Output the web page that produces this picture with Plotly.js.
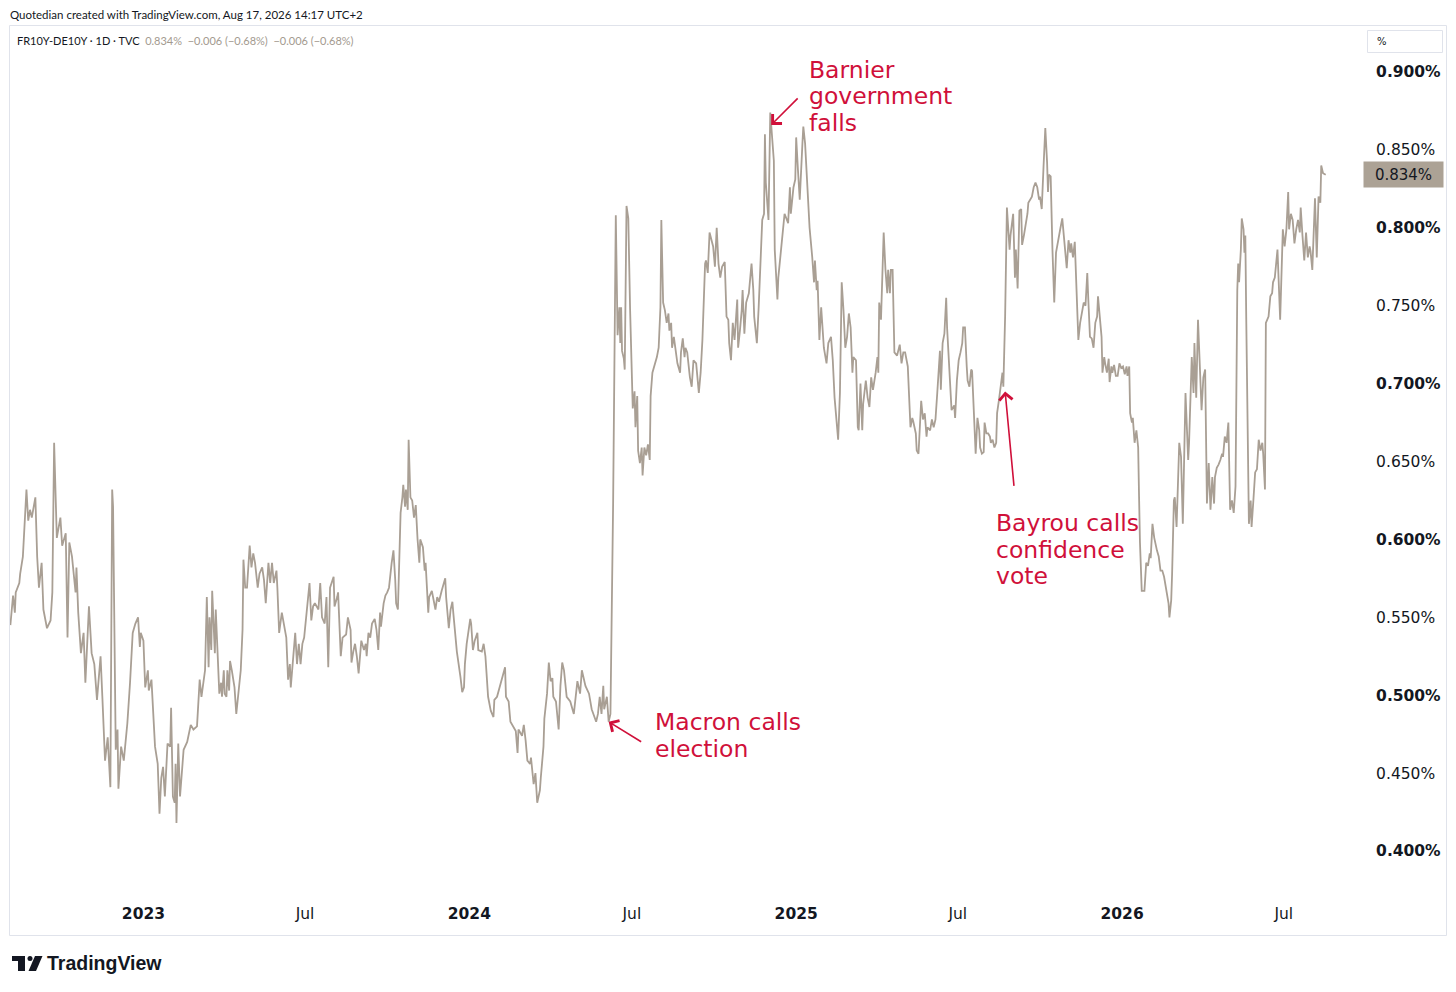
<!DOCTYPE html>
<html><head><meta charset="utf-8">
<script src="https://cdn.plot.ly/plotly-3.0.1.min.js"></script>
<style>html,body{margin:0;padding:0;background:#fff}#chart{width:1456px;height:992px}</style>
</head><body><div id="chart"></div>
<script>
// ---------- DATA (FR10Y-DE10Y spread, %) ----------
const days2022 = ['08-05','08-08','08-10','08-11','08-15','08-16','08-19','08-21','08-23','08-25',
'08-27','08-29','09-02','09-04','09-06','09-09','09-11','09-15','09-19','09-21',
'09-23','09-26','09-30','10-02','10-06','10-08','10-10','10-13','10-17','10-18',
'10-20','10-23','10-26','10-28','10-30','11-01','11-04','11-07','11-10','11-14',
'11-16','11-19','11-22','11-25','11-27','11-28','12-01','12-03','12-04','12-07',
'12-10','12-14','12-17','12-20','12-23','12-26','12-28','12-29'];
const vals2022 = [0.545,0.564,0.553,0.566,0.572,0.578,0.589,0.612,0.632,0.612,
0.619,0.614,0.627,0.589,0.569,0.585,0.555,0.543,0.548,0.566,
0.662,0.601,0.614,0.596,0.604,0.537,0.598,0.589,0.566,0.582,
0.553,0.527,0.540,0.508,0.537,0.557,0.527,0.520,0.497,0.525,
0.499,0.458,0.473,0.441,0.632,0.621,0.465,0.478,0.440,0.467,
0.458,0.482,0.508,0.540,0.546,0.550,0.531,0.540];

const days2023 = ['01-01','01-03','01-06','01-07','01-10','01-14','01-17','01-19','01-21','01-23',
'01-25','01-28','01-31','02-01','02-03','02-05','02-06','02-07','02-09','02-11',
'02-15','02-19','02-23','02-26','03-02','03-05','03-07','03-11','03-13','03-15',
'03-16','03-18','03-19','03-21','03-22','03-23','03-25','03-27','03-29','03-30',
'04-01','04-02','04-04','04-05','04-07','04-08','04-10','04-13','04-15','04-17',
'04-20','04-22','04-23','04-25','04-27','04-30','05-02','05-04','05-06','05-09',
'05-11','05-14','05-16','05-18','05-20','05-21','05-23','05-25','05-27','05-30',
'05-31','06-02','06-05','06-07','06-10','06-12','06-14','06-15','06-17','06-20',
'06-22','06-24','06-26','06-28','06-30','07-03','07-06','07-08','07-10','07-12',
'07-16','07-18','07-20','07-23','07-25','07-27','07-29','08-02','08-03','08-06',
'08-07','08-10','08-12','08-16','08-18','08-21','08-22','08-24','08-26','08-28',
'08-30','09-02','09-05','09-07','09-08','09-10','09-12','09-14','09-17','09-19',
'09-21','09-23','09-24','09-27','09-29','10-01','10-03','10-06','10-08','10-10',
'10-11','10-13','10-16','10-18','10-19','10-21','10-22','10-24','10-25','10-27',
'10-29','10-31','11-02','11-04','11-06','11-07','11-10','11-12','11-13','11-16',
'11-17','11-20','11-22','11-24','11-26','11-28','12-01','12-03','12-05','12-06',
'12-09','12-11','12-13','12-14','12-16','12-18','12-22','12-24','12-26','12-27','12-29'];
const vals2023 = [0.535,0.505,0.516,0.503,0.510,0.467,0.456,0.424,0.447,0.454,
0.435,0.469,0.467,0.492,0.435,0.431,0.456,0.418,0.469,0.435,
0.465,0.470,0.481,0.478,0.480,0.510,0.499,0.516,0.563,0.518,
0.550,0.529,0.567,0.542,0.527,0.555,0.525,0.501,0.508,0.499,
0.516,0.501,0.499,0.516,0.503,0.522,0.516,0.505,0.488,0.499,
0.516,0.542,0.587,0.569,0.569,0.596,0.582,0.591,0.585,0.569,
0.578,0.582,0.574,0.559,0.580,0.585,0.572,0.585,0.572,0.580,
0.569,0.540,0.553,0.546,0.537,0.510,0.520,0.505,0.520,0.540,
0.520,0.533,0.520,0.533,0.537,0.553,0.572,0.548,0.557,0.559,
0.555,0.572,0.550,0.546,0.563,0.518,0.569,0.576,0.557,0.563,
0.566,0.525,0.537,0.539,0.550,0.542,0.521,0.528,0.533,0.525,
0.514,0.535,0.529,0.533,0.525,0.540,0.537,0.546,0.549,0.542,
0.529,0.553,0.544,0.559,0.564,0.566,0.569,0.585,0.593,0.574,
0.559,0.555,0.617,0.627,0.635,0.621,0.632,0.619,0.664,0.627,
0.625,0.614,0.622,0.600,0.585,0.600,0.595,0.580,0.585,0.553,
0.563,0.567,0.561,0.555,0.563,0.560,0.567,0.572,0.575,0.563,
0.543,0.555,0.560,0.553,0.542,0.528,0.512,0.502,0.505,0.520,0.533];

const days2024 = ['01-02','01-03','01-05','01-07','01-10','01-11','01-15','01-17','01-19','01-22',
'01-25','01-28','01-29','02-01','02-03','02-07','02-10','02-11','02-14','02-16',
'02-18','02-22','02-24','02-25','02-29','03-02','03-04','03-06','03-09','03-10',
'03-13','03-15','03-17','03-20','03-21','03-24','03-25','03-28','03-30','04-01',
'04-03','04-04','04-07','04-10','04-12','04-14','04-16','04-19','04-23','04-27',
'05-01','05-04','05-06','05-08','05-10','05-14','05-16','05-17','05-22','05-24',
'05-26','05-28','05-30','05-31','06-03','06-05','06-07','06-10','06-13','06-15',
'06-17','06-18','06-19','06-20','06-22','06-23','06-25','06-27','06-29','07-01',
'07-02','07-04','07-05','07-07','07-08','07-10','07-12','07-13','07-15','07-17',
'07-19','07-21','07-22','07-24','07-27','07-29','07-31','08-02','08-03','08-05',
'08-07','08-09','08-11','08-12','08-14','08-15','08-17','08-21','08-24','08-25',
'08-27','08-29','08-30','09-01','09-04','09-06','09-08','09-11','09-14','09-16',
'09-18','09-21','09-22','09-24','09-26','09-30','10-02','10-04','10-06','10-08',
'10-10','10-13','10-15','10-17','10-18','10-20','10-22','10-24','10-27','10-28',
'10-30','11-01','11-02','11-04','11-06','11-09','11-12','11-14','11-15','11-18',
'11-20','11-22','11-24','11-26','11-27','11-28','11-30','12-01','12-03','12-05',
'12-07','12-08','12-10','12-11','12-12','12-15','12-17','12-19','12-23','12-25',
'12-26','12-29','12-31'];
const vals2024 = [0.549,0.546,0.529,0.535,0.540,0.529,0.528,0.533,0.525,0.499,
0.490,0.486,0.497,0.499,0.503,0.512,0.518,0.499,0.496,0.483,
0.481,0.477,0.463,0.478,0.474,0.481,0.471,0.458,0.456,0.460,
0.443,0.450,0.431,0.439,0.447,0.467,0.485,0.501,0.521,0.509,
0.511,0.499,0.496,0.478,0.506,0.521,0.516,0.499,0.496,0.488,
0.509,0.501,0.516,0.511,0.506,0.501,0.494,0.491,0.483,0.488,
0.499,0.488,0.506,0.491,0.499,0.483,0.488,0.623,0.808,0.731,
0.749,0.726,0.749,0.721,0.716,0.709,0.814,0.806,0.748,0.702,
0.684,0.695,0.672,0.692,0.657,0.649,0.659,0.641,0.659,0.654,
0.661,0.651,0.692,0.707,0.713,0.717,0.723,0.749,0.805,0.752,
0.747,0.739,0.745,0.734,0.739,0.723,0.730,0.713,0.707,0.720,
0.729,0.717,0.723,0.720,0.704,0.698,0.715,0.713,0.694,0.707,
0.728,0.777,0.779,0.771,0.797,0.788,0.775,0.800,0.777,0.768,
0.775,0.778,0.743,0.741,0.726,0.715,0.739,0.728,0.754,0.723,
0.734,0.747,0.760,0.732,0.752,0.758,0.777,0.760,0.743,0.726,
0.749,0.777,0.805,0.809,0.860,0.829,0.813,0.805,0.874,0.856,
0.843,0.786,0.768,0.754,0.768,0.786,0.799,0.809,0.803,0.826,
0.809,0.826,0.831];

const days2025 = ['01-01','01-03','01-05','01-08','01-09','01-11','01-14','01-16','01-19','01-21',
'01-22','01-24','01-25','01-27','01-29','02-01','02-04','02-06','02-09','02-11',
'02-13','02-17','02-19','02-21','02-23','02-25','02-27','03-01','03-03','03-05',
'03-06','03-09','03-11','03-12','03-14','03-16','03-17','03-20','03-22','03-24',
'03-26','03-28','03-31','04-02','04-03','04-04','04-06','04-09','04-11','04-13',
'04-14','04-16','04-17','04-19','04-21','04-24','04-27','04-29','05-01','05-03',
'05-06','05-07','05-09','05-11','05-12','05-15','05-16','05-18','05-21','05-23',
'05-25','05-27','05-28','05-31','06-02','06-04','06-06','06-08','06-11','06-12',
'06-14','06-16','06-18','06-19','06-21','06-22','06-24','06-27','06-28','06-30',
'07-02','07-04','07-06','07-07','07-09','07-11','07-12','07-14','07-16','07-17',
'07-19','07-21','07-23','07-25','07-26','07-28','07-30','07-31','08-02','08-04',
'08-06','08-07','08-09','08-11','08-13','08-14','08-16','08-18','08-20','08-21',
'08-23','08-25','08-28','08-29','09-01','09-03','09-04','09-06','09-08','09-10',
'09-11','09-13','09-15','09-17','09-18','09-22','09-24','09-26','09-28','09-30',
'10-01','10-03','10-05','10-07','10-09','10-10','10-11','10-13','10-15','10-17',
'10-19','10-22','10-24','10-26','10-27','10-29','10-31','11-02','11-04','11-05',
'11-07','11-09','11-11','11-13','11-15','11-17','11-19','11-21','11-23','11-24',
'11-26','11-28','11-30','12-02','12-04','12-05','12-07','12-09','12-10','12-12',
'12-13','12-15','12-17','12-18','12-20','12-21','12-23','12-25','12-27','12-29','12-31'];
const vals2025 = [0.858,0.837,0.818,0.854,0.865,0.854,0.820,0.800,0.781,0.765,
0.779,0.760,0.766,0.728,0.749,0.723,0.713,0.726,0.730,0.715,
0.691,0.664,0.694,0.765,0.747,0.723,0.730,0.745,0.736,0.707,
0.717,0.715,0.672,0.670,0.700,0.670,0.687,0.702,0.691,0.685,
0.704,0.696,0.707,0.717,0.707,0.752,0.741,0.797,0.773,0.758,
0.773,0.758,0.773,0.773,0.720,0.718,0.725,0.713,0.720,0.720,
0.711,0.695,0.672,0.678,0.676,0.668,0.657,0.655,0.689,0.677,
0.681,0.666,0.672,0.670,0.677,0.672,0.677,0.694,0.721,0.696,
0.726,0.732,0.755,0.736,0.713,0.702,0.683,0.686,0.678,0.702,
0.715,0.720,0.726,0.736,0.736,0.711,0.702,0.698,0.709,0.708,
0.685,0.655,0.678,0.670,0.659,0.655,0.656,0.675,0.668,0.668,
0.666,0.662,0.664,0.659,0.662,0.681,0.689,0.698,0.707,0.698,
0.743,0.813,0.786,0.795,0.809,0.768,0.786,0.761,0.811,0.812,
0.789,0.795,0.801,0.809,0.816,0.820,0.826,0.829,0.826,0.818,
0.820,0.812,0.839,0.864,0.842,0.823,0.834,0.833,0.786,0.752,
0.784,0.795,0.800,0.806,0.799,0.789,0.774,0.792,0.784,0.790,
0.781,0.791,0.765,0.728,0.739,0.747,0.752,0.750,0.771,0.756,
0.730,0.729,0.723,0.739,0.743,0.756,0.743,0.730,0.707,0.717,
0.713,0.707,0.716,0.701,0.711,0.707,0.712,0.705,0.705,0.713,0.710];

const days2026 = ['01-02','01-04','01-06','01-07','01-09','01-10','01-12','01-13','01-15','01-17',
'01-19','01-20','01-21','01-23','01-26','01-28','01-30','02-01','02-02','02-04',
'02-06','02-09','02-11','02-13','02-15','02-17','02-18','02-20','02-22','02-23',
'02-25','02-26','02-28','03-01','03-03','03-06','03-08','03-10','03-13','03-16',
'03-17','03-20','03-22','03-23','03-25','03-27','03-29','03-31','04-02','04-04',
'04-06','04-08','04-10','04-12','04-14','04-15','04-17','04-19','04-21','04-23',
'04-24','04-26','04-28','04-30','05-02','05-04','05-06','05-08','05-10','05-11',
'05-12','05-14','05-15','05-17','05-18','05-19','05-20','05-21','05-23','05-25',
'05-26','05-28','05-30','06-01','06-03','06-05','06-07','06-08','06-10','06-11',
'06-14','06-16','06-18','06-19','06-21','06-24','06-25','06-27','06-30','07-02',
'07-04','07-06','07-07','07-09','07-11','07-13','07-15','07-17','07-19','07-20',
'07-22','07-24','07-26','07-28','07-30','07-31','08-02','08-03','08-05','08-07',
'08-09','08-11','08-12','08-14','08-17'];
const vals2026 = [0.711,0.706,0.711,0.705,0.711,0.681,0.675,0.678,0.662,0.670,
0.659,0.627,0.598,0.567,0.567,0.585,0.583,0.591,0.588,0.610,
0.601,0.593,0.589,0.580,0.580,0.576,0.572,0.567,0.559,0.550,
0.561,0.578,0.625,0.627,0.608,0.662,0.653,0.610,0.694,0.651,
0.662,0.717,0.694,0.726,0.691,0.741,0.713,0.683,0.704,0.709,
0.623,0.649,0.619,0.640,0.623,0.640,0.646,0.648,0.651,0.655,
0.653,0.666,0.662,0.675,0.619,0.625,0.617,0.634,0.760,0.777,
0.765,0.786,0.806,0.799,0.784,0.795,0.743,0.683,0.610,0.625,
0.608,0.625,0.643,0.645,0.664,0.657,0.662,0.655,0.632,0.739,
0.743,0.756,0.758,0.765,0.768,0.786,0.771,0.741,0.799,0.788,
0.799,0.823,0.799,0.809,0.805,0.790,0.799,0.805,0.797,0.813,
0.795,0.779,0.797,0.781,0.788,0.785,0.773,0.790,0.819,0.781,
0.820,0.816,0.840,0.835,0.834];

const xTickDates  = ['2023-01-01','2023-07-01','2024-01-01','2024-07-01','2025-01-01','2025-07-01','2026-01-01','2026-07-01'];
const xTickLabels = ['<b>2023</b>','Jul','<b>2024</b>','Jul','<b>2025</b>','Jul','<b>2026</b>','Jul'];
const yTickValues = [0.40,0.45,0.50,0.55,0.60,0.65,0.70,0.75,0.80,0.85,0.90];
const yTickLabels = ['<b>0.400%</b>','0.450%','<b>0.500%</b>','0.550%','<b>0.600%</b>','0.650%','<b>0.700%</b>','0.750%','<b>0.800%</b>','0.850%','<b>0.900%</b>'];
const lastValueLabel = '0.834%';
const lastValue = 0.834;
const headerText = 'Quotedian created with TradingView.com, Aug 17, 2026 14:17 UTC+2';
const symbolText = 'FR10Y-DE10Y · 1D · TVC';
const quoteText  = '0.834%  −0.006 (−0.68%)  −0.006 (−0.68%)';
const eventLabels = [['Barnier','government','falls'],['Macron calls','election'],['Bayrou calls','confidence','vote']];
const eventDates  = ['2024-12-04','2024-06-05','2025-08-23'];
const eventValues = [0.866, 0.483, 0.695];

// ---------- BUILD ----------
const dates = [].concat(
  days2022.map(d=>'2022-'+d), days2023.map(d=>'2023-'+d), days2024.map(d=>'2024-'+d),
  days2025.map(d=>'2025-'+d), days2026.map(d=>'2026-'+d));
const values = [].concat(vals2022, vals2023, vals2024, vals2025, vals2026);

const W=1456, H=992, L=10, R=96, T=26, B=102;
const PW=W-L-R, PH=H-T-B;
const px = x => (x-L)/PW;
const py = y => (H-B-y)/PH;

const lineColor = '#a99f94';
const red = '#d0103a';
const ink = '#131722';

const annotations = [];
annotations.push({xref:'paper',yref:'paper',x:px(8),y:py(14),xanchor:'left',yanchor:'middle',showarrow:false,
  text:headerText,font:{family:'Lato, DejaVu Sans',size:11.5,color:ink}});
annotations.push({xref:'paper',yref:'paper',x:px(15),y:py(40),xanchor:'left',yanchor:'middle',showarrow:false,
  text:symbolText+'  <span style="color:#a39a8f">'+quoteText+'</span>',font:{family:'Lato, DejaVu Sans',size:11,color:ink}});
annotations.push({xref:'paper',yref:'paper',x:px(45),y:py(963),xanchor:'left',yanchor:'middle',showarrow:false,
  text:'<b>TradingView</b>',font:{family:'Liberation Sans, Arial',size:19.5,color:ink}});
annotations.push({xref:'paper',yref:'paper',x:px(1375),y:py(41),xanchor:'left',yanchor:'middle',showarrow:false,
  text:'%',font:{family:'DejaVu Sans',size:10,color:ink}});
annotations.push({xref:'paper',yref:'y',x:px(1363),y:lastValue,xanchor:'left',yanchor:'middle',showarrow:false,
  text:lastValueLabel,bgcolor:'#aca295',width:75,height:21,borderpad:2,align:'center',
  font:{family:'DejaVu Sans',size:15,color:ink}});

const textPos = [[809,70],[655,722],[996,523]];
const lineGap = 26.5;
const arrowOff = [[28,-28],[34,21],[9,96]];
eventLabels.forEach((lines,i)=>{
  lines.forEach((t,j)=>{
    annotations.push({xref:'paper',yref:'paper',x:px(textPos[i][0]-2),y:py(textPos[i][1]+j*lineGap),
      xanchor:'left',yanchor:'middle',showarrow:false,text:t,
      font:{family:'DejaVu Sans',size:23.5,color:red}});
  });
  annotations.push({x:eventDates[i],y:eventValues[i],xref:'x',yref:'y',text:'',showarrow:true,
    ax:arrowOff[i][0],ay:arrowOff[i][1],arrowhead:4,arrowsize:1.6,arrowwidth:1.6,arrowcolor:red,standoff:0});
});

const shapes = [
  {type:'rect',xref:'paper',yref:'paper',x0:px(9.5),x1:px(1446.5),y0:py(935.5),y1:py(25.5),line:{color:'#e0e3eb',width:1},layer:'below'},
  {type:'rect',xref:'paper',yref:'paper',x0:px(1367.5),x1:px(1442.5),y0:py(52.5),y1:py(30.5),line:{color:'#e0e3eb',width:1}},
  {type:'rect',xref:'paper',yref:'paper',x0:px(12),x1:px(25),y0:py(961),y1:py(956),fillcolor:ink,line:{width:0}},
  {type:'rect',xref:'paper',yref:'paper',x0:px(18),x1:px(25),y0:py(971),y1:py(956),fillcolor:ink,line:{width:0}},
  {type:'circle',xref:'paper',yref:'paper',x0:px(27.5),x1:px(32.5),y0:py(961),y1:py(956),fillcolor:ink,line:{width:0}},
  {type:'path',xref:'paper',yref:'paper',
    path:`M ${px(35)} ${py(956)} L ${px(42.5)} ${py(956)} L ${px(36)} ${py(971)} L ${px(28.5)} ${py(971)} Z`,
    fillcolor:ink,line:{width:0}}
];

const trace = {type:'scatter',mode:'lines',x:dates,y:values,
  line:{color:lineColor,width:1.8},hoverinfo:'skip'};

const layout = {
  width:W,height:H,margin:{l:L,r:R,t:T,b:B},
  paper_bgcolor:'#fff',plot_bgcolor:'#fff',
  font:{family:'DejaVu Sans',color:ink},
  showlegend:false,hovermode:false,
  xaxis:{type:'date',range:['2022-08-04 14:00','2026-09-24 10:00'],
    tickmode:'array',tickvals:xTickDates,ticktext:xTickLabels,
    ticks:'outside',ticklen:9,tickcolor:'rgba(0,0,0,0)',
    showgrid:false,zeroline:false,showline:false,
    tickfont:{family:'DejaVu Sans',size:15.5,color:ink},fixedrange:true},
  yaxis:{side:'right',range:[0.375,0.9295],
    tickmode:'array',tickvals:yTickValues,ticktext:yTickLabels,
    ticks:'outside',ticklen:12,tickcolor:'rgba(0,0,0,0)',
    showgrid:false,zeroline:false,showline:false,
    tickfont:{family:'DejaVu Sans',size:15.5,color:ink},fixedrange:true},
  annotations:annotations,shapes:shapes
};

Plotly.newPlot('chart',[trace],layout,{displayModeBar:false,staticPlot:true});
</script>
</body></html>
